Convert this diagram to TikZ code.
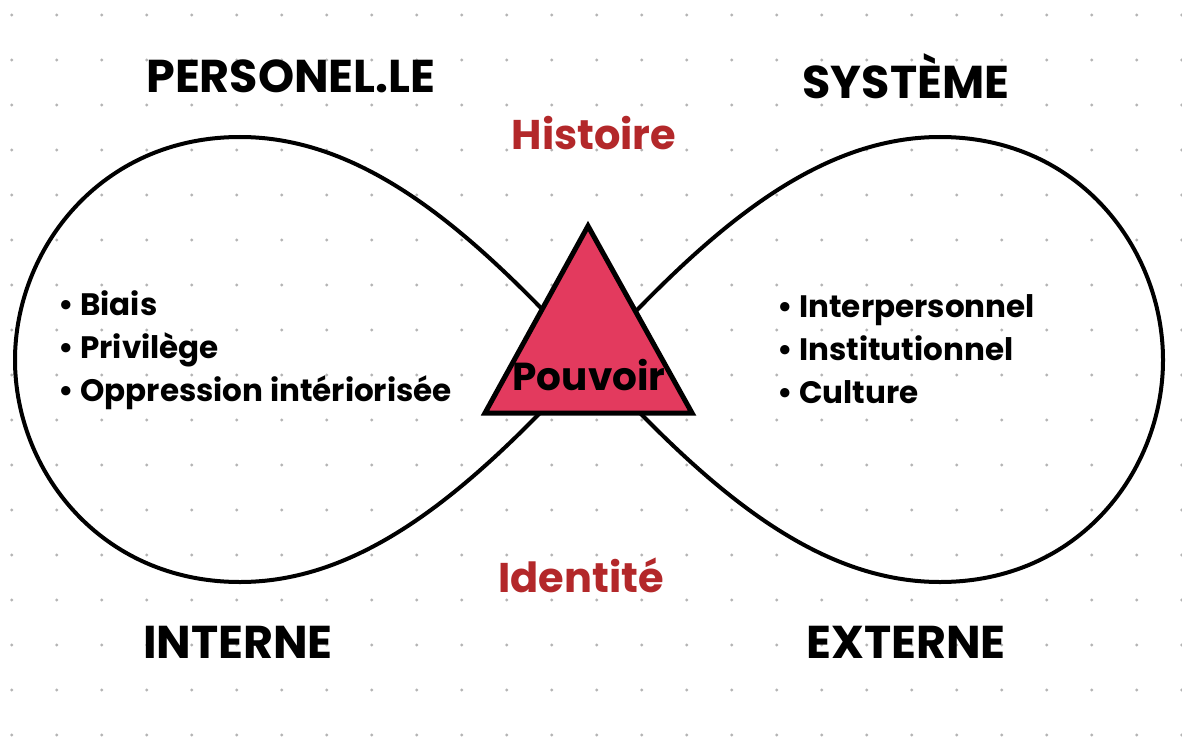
\documentclass[tikz,border=0pt]{standalone}
\usepackage{fontspec}
\setmainfont{Poppins}
\definecolor{tri}{HTML}{E33A5E}
\definecolor{hist}{HTML}{B3282A}
\definecolor{dotc}{HTML}{B4B4B4}
\begin{document}
\begin{tikzpicture}[x=1pt,y=-1pt,
  head/.style={font=\fontsize{46}{50}\selectfont\bfseries, text=black},
  redlab/.style={font=\fontsize{41.5}{48}\selectfont\bfseries, text=hist},
  lst/.style={font=\fontsize{31}{43}\selectfont\bfseries, align=left, anchor=west, inner sep=0pt},
  loop/.style={line width=4pt, black}]
\useasboundingbox (0,0) rectangle (1182,738);
\fill[white] (0,0) rectangle (1182,738);
\foreach \i in {0,...,26}{
  \foreach \j in {0,...,16}{
    \fill[dotc] (11.7+45*\i,15+45*\j) circle (1.6);
  }
}
\draw[loop] (590,360) .. controls (480,240) and (370,137) .. (240,137)
  .. controls (100,137) and (15,250) .. (15,360)
  .. controls (15,470) and (100,582) .. (240,582)
  .. controls (370,582) and (480,480) .. (590,360)
  .. controls (700,240) and (810,137) .. (940,137)
  .. controls (1080,137) and (1163,250) .. (1163,360)
  .. controls (1163,470) and (1080,582) .. (940,582)
  .. controls (810,582) and (700,480) .. (590,360);
\draw[line width=5pt, fill=tri, line join=miter] (588,226) -- (692,413) -- (485,413) -- cycle;
\node (pouvoir) at (589,375) {\fontsize{39}{44}\selectfont\bfseries Pouvoir};
\node[head] (perso) at (291,76) {PERSONEL.LE};
\node[head] (systeme) at (906,76) {SYSTÈME};
\node[head] (interne) at (238,642) {INTERNE};
\node[head] (externe) at (906,642) {EXTERNE};
\node[redlab] (histoire) at (594,133) {Histoire};
\node[redlab] (identite) at (581,575) {Identité};
\node[lst] (gauche) at (58,350) {• Biais\\• Privilège\\• Oppression intériorisée};
\node[lst] (droite) at (777,349) {• Interpersonnel\\• Institutionnel\\• Culture};
\end{tikzpicture}
\end{document}
